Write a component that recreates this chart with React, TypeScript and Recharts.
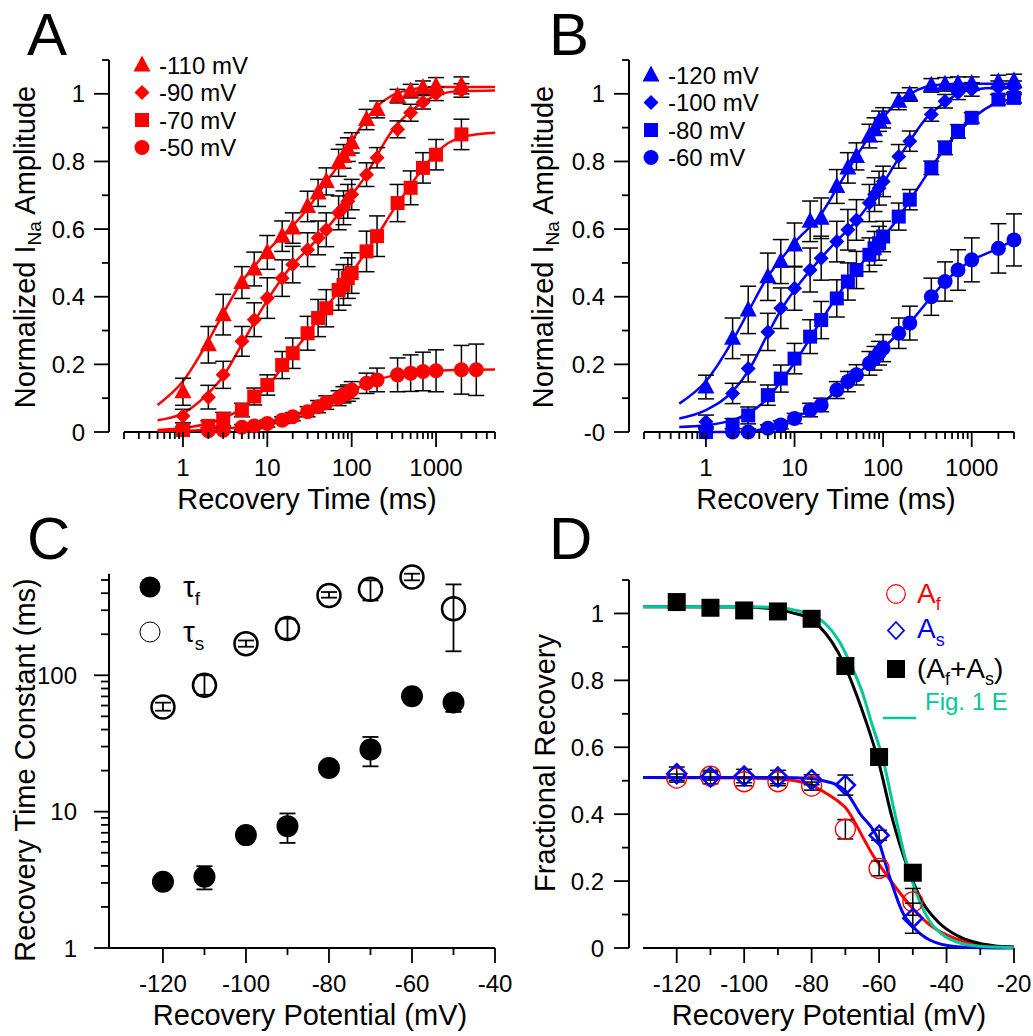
import React from 'react';
import { ComposedChart, Scatter, Line, XAxis, YAxis, ErrorBar, ReferenceLine } from 'recharts';

const FONT = '"Liberation Sans", Arial, Helvetica, sans-serif';
const RED = '#ff0000';
const BLUE = '#0000ff';
const TEAL = '#00c896';
const BLACK = '#000000';

// ---------- Panel A (red) ----------
const timesA = [1, 2, 3, 5, 7, 10, 15, 20, 30, 40, 50, 70, 80, 90, 100, 150, 200, 350, 500, 700, 1000, 2000];
const timesA50 = [2, 3, 5, 7, 10, 15, 20, 30, 40, 50, 70, 80, 90, 100, 150, 200, 350, 500, 700, 1000, 2000, 3000];
const a110 = [0.119, 0.258, 0.347, 0.442, 0.482, 0.531, 0.579, 0.603, 0.667, 0.707, 0.741, 0.796, 0.815, 0.835, 0.855, 0.924, 0.954, 0.993, 1.008, 1.018, 1.023, 1.025];
const a110Err = [0.04, 0.054, 0.06, 0.047, 0.05, 0.05, 0.045, 0.045, 0.045, 0.04, 0.04, 0.04, 0.035, 0.035, 0.03, 0.03, 0.025, 0.02, 0.02, 0.02, 0.025, 0.025];
const a90 = [0.047, 0.103, 0.169, 0.268, 0.332, 0.396, 0.455, 0.495, 0.539, 0.574, 0.598, 0.648, 0.663, 0.682, 0.702, 0.761, 0.811, 0.895, 0.944, 0.975, 1.0, 1.01];
const a90Err = [0.02, 0.035, 0.04, 0.044, 0.05, 0.06, 0.054, 0.054, 0.05, 0.05, 0.05, 0.05, 0.05, 0.05, 0.045, 0.035, 0.03, 0.025, 0.025, 0.02, 0.02, 0.02];
const a70 = [0.006, 0.018, 0.038, 0.065, 0.105, 0.139, 0.198, 0.233, 0.292, 0.337, 0.366, 0.42, 0.435, 0.455, 0.47, 0.534, 0.579, 0.677, 0.722, 0.781, 0.82, 0.88];
const a70Err = [0.01, 0.015, 0.02, 0.02, 0.025, 0.03, 0.04, 0.045, 0.05, 0.055, 0.055, 0.06, 0.06, 0.06, 0.06, 0.06, 0.06, 0.055, 0.05, 0.045, 0.045, 0.045];
const a50 = [0.004, 0.005, 0.014, 0.018, 0.025, 0.035, 0.045, 0.06, 0.075, 0.087, 0.1, 0.11, 0.115, 0.124, 0.144, 0.154, 0.169, 0.174, 0.179, 0.181, 0.184, 0.184];
const a50Err = [0.008, 0.008, 0.008, 0.008, 0.01, 0.01, 0.012, 0.015, 0.018, 0.02, 0.022, 0.024, 0.024, 0.025, 0.03, 0.035, 0.05, 0.054, 0.057, 0.062, 0.072, 0.076];
const fitTimesA = [0.5, 1, 2, 3, 5, 7, 10, 20, 30, 50, 70, 100, 150, 200, 300, 500, 700, 1000, 2000, 5000];
const fitA110 = [0.08, 0.15, 0.27, 0.35, 0.445, 0.49, 0.535, 0.61, 0.66, 0.74, 0.79, 0.86, 0.925, 0.962, 0.995, 1.012, 1.018, 1.02, 1.02, 1.02];
const fitA90 = [0.035, 0.055, 0.115, 0.165, 0.26, 0.325, 0.39, 0.495, 0.54, 0.6, 0.645, 0.7, 0.762, 0.818, 0.89, 0.948, 0.975, 0.995, 1.008, 1.01];
const fitA70 = [0.006, 0.012, 0.025, 0.04, 0.07, 0.1, 0.135, 0.235, 0.29, 0.37, 0.415, 0.47, 0.535, 0.58, 0.65, 0.73, 0.78, 0.825, 0.872, 0.885];
const fitA50 = [0.002, 0.004, 0.007, 0.01, 0.015, 0.019, 0.025, 0.045, 0.06, 0.087, 0.103, 0.122, 0.142, 0.154, 0.166, 0.174, 0.178, 0.181, 0.184, 0.185];

// ---------- Panel B (blue) ----------
const timesB = [1, 2, 3, 5, 7, 10, 15, 20, 30, 40, 50, 70, 80, 90, 100, 150, 200, 350, 500, 700, 1000, 2000, 3000];
const b120 = [0.133, 0.277, 0.361, 0.459, 0.504, 0.553, 0.623, 0.632, 0.726, 0.781, 0.815, 0.875, 0.894, 0.919, 0.929, 0.978, 0.998, 1.025, 1.028, 1.03, 1.03, 1.035, 1.038];
const b120Err = [0.035, 0.06, 0.07, 0.07, 0.065, 0.065, 0.06, 0.06, 0.05, 0.045, 0.04, 0.035, 0.035, 0.03, 0.03, 0.025, 0.02, 0.02, 0.02, 0.02, 0.02, 0.02, 0.02];
const b100 = [0.03, 0.114, 0.188, 0.296, 0.366, 0.425, 0.479, 0.514, 0.563, 0.598, 0.627, 0.677, 0.702, 0.721, 0.741, 0.815, 0.86, 0.939, 0.978, 1.003, 1.013, 1.018, 1.018];
const b100Err = [0.02, 0.03, 0.04, 0.055, 0.06, 0.065, 0.065, 0.065, 0.06, 0.06, 0.06, 0.055, 0.05, 0.05, 0.045, 0.035, 0.03, 0.02, 0.02, 0.02, 0.02, 0.02, 0.02];
const b80 = [0.0, 0.02, 0.049, 0.109, 0.158, 0.217, 0.282, 0.331, 0.395, 0.445, 0.479, 0.524, 0.543, 0.558, 0.578, 0.637, 0.687, 0.781, 0.84, 0.889, 0.929, 0.983, 0.988];
const b80Err = [0.015, 0.02, 0.025, 0.03, 0.04, 0.045, 0.05, 0.055, 0.055, 0.055, 0.055, 0.05, 0.05, 0.05, 0.045, 0.04, 0.03, 0.02, 0.02, 0.02, 0.015, 0.015, 0.015];
const b60 = [0.0, 0.0, 0.0, 0.011, 0.021, 0.04, 0.065, 0.08, 0.124, 0.149, 0.169, 0.203, 0.218, 0.233, 0.248, 0.292, 0.322, 0.4, 0.445, 0.479, 0.509, 0.543, 0.568];
const b60Err = [0.01, 0.01, 0.01, 0.01, 0.012, 0.015, 0.02, 0.02, 0.025, 0.03, 0.03, 0.035, 0.035, 0.035, 0.04, 0.045, 0.05, 0.055, 0.058, 0.06, 0.065, 0.073, 0.077];
const fitTimesB = [0.5, 1, 2, 3, 5, 7, 10, 20, 30, 50, 70, 100, 150, 200, 300, 500, 700, 1000, 2000, 3000];
const fitB120 = [0.084, 0.15, 0.27, 0.355, 0.46, 0.51, 0.56, 0.645, 0.72, 0.815, 0.875, 0.93, 0.978, 1.0, 1.02, 1.028, 1.03, 1.03, 1.03, 1.03];
const fitB100 = [0.04, 0.065, 0.12, 0.18, 0.29, 0.36, 0.42, 0.515, 0.565, 0.625, 0.675, 0.735, 0.81, 0.86, 0.925, 0.975, 1.0, 1.012, 1.018, 1.018];
const fitB80 = [0.015, 0.02, 0.035, 0.055, 0.1, 0.15, 0.205, 0.33, 0.4, 0.48, 0.525, 0.575, 0.635, 0.685, 0.755, 0.84, 0.885, 0.925, 0.975, 0.985];

// ---------- shared axes for A/B ----------
const xTicksA = [0.2, 0.3, 0.4, 0.5, 0.6, 0.7, 0.8, 0.9, 1, 2, 3, 4, 5, 6, 7, 8, 9, 10, 20, 30, 40, 50, 60, 70, 80, 90, 100, 200, 300, 400, 500, 600, 700, 800, 900, 1000, 2000, 3000, 4000, 5000];
const xTicksB = [0.2, 0.3, 0.4, 0.5, 0.6, 0.7, 0.8, 0.9, 1, 2, 3, 4, 5, 6, 7, 8, 9, 10, 20, 30, 40, 50, 60, 70, 80, 90, 100, 200, 300, 400, 500, 600, 700, 800, 900, 1000, 2000, 3000];
const xMajorLog = [1, 10, 100, 1000];
const xLabelsLog = ['1', '10', '100', '1000'];
const yTicksLin = [0, 0.1, 0.2, 0.3, 0.4, 0.5, 0.6, 0.7, 0.8, 0.9, 1, 1.1];
const yMajorLin = [0, 0.2, 0.4, 0.6, 0.8, 1];
const yLabelsA = ['0', '0.2', '0.4', '0.6', '0.8', '1'];
const yLabelsB = ['-0', '0.2', '0.4', '0.6', '0.8', '1'];

// ---------- Panel C ----------
const potentialsC = [-120, -110, -100, -90, -80, -70, -60, -50];
const tauF = [3.06, 3.33, 6.73, 7.83, 20.9, 28.6, 70.2, 63.1];
const tauFLo = [3.06, 2.69, 6.73, 5.9, 20.9, 21.5, 70.2, 53.9];
const tauFHi = [3.06, 3.98, 6.73, 9.7, 20.9, 35.3, 70.2, 70];
const tauS = [58.6, 84.5, 170.7, 220, 385, 427, 525, 308];
const tauSLo = [55, 72, 162, 186, 371, 354, 497, 150];
const tauSHi = [63, 100, 180, 260, 408, 497, 556, 464];
const xDomainC = [-133, -40];
const yTopC = 556;
const xTicksC = [-120, -110, -100, -90, -80, -70, -60, -50, -40];
const xMajorC = [-120, -100, -80, -60, -40];
const xLabelsC = ['-120', '-100', '-80', '-60', '-40'];
const yTicksC = [1, 2, 3, 4, 5, 6, 7, 8, 9, 10, 20, 30, 40, 50, 60, 70, 80, 90, 100, 200, 300, 400, 500];
const yMajorC = [1, 10, 100];
const yLabelsC = ['1', '10', '100'];

// ---------- Panel D ----------
const potentialsD = [-120, -110, -100, -90, -80, -70, -60, -50];
const ampF = [0.508, 0.514, 0.497, 0.497, 0.484, 0.355, 0.238, 0.138];
const ampFErr = [0.012, 0.012, 0.012, 0.012, 0.012, 0.029, 0.022, 0.04];
const ampS = [0.521, 0.511, 0.514, 0.511, 0.503, 0.487, 0.337, 0.089];
const ampSErr = [0.02, 0.02, 0.02, 0.02, 0.015, 0.03, 0.015, 0.045];
const ampSum = [1.034, 1.017, 1.009, 1.006, 0.984, 0.843, 0.571, 0.225];
const fitSumX = [-130, -100, -90, -85, -81.6, -77.6, -74, -70.2, -66.8, -63.8, -60.4, -55.9, -51.9, -47, -42.1, -37, -32.2, -26, -20];
const fitSumY = [1.02, 1.019, 1.012, 1.0, 0.99, 0.96, 0.915, 0.845, 0.76, 0.675, 0.566, 0.38, 0.25, 0.135, 0.074, 0.038, 0.019, 0.007, 0.003];
const fig1EX = [-130, -100, -90, -85, -80, -76, -72, -68.5, -65, -62.3, -58.9, -55.5, -52, -49, -45, -40, -35, -30, -20];
const fig1EY = [1.02, 1.02, 1.018, 1.01, 0.995, 0.97, 0.92, 0.85, 0.765, 0.675, 0.566, 0.41, 0.26, 0.165, 0.08, 0.032, 0.012, 0.005, 0.001];
const fitFX = [-130, -100, -90, -85, -80, -75.6, -71.7, -70, -65, -62, -60, -55, -50, -45, -40, -35, -30, -25, -20];
const fitFY = [0.51, 0.508, 0.505, 0.5, 0.487, 0.462, 0.435, 0.42, 0.335, 0.28, 0.25, 0.18, 0.118, 0.069, 0.039, 0.02, 0.009, 0.004, 0.002];
const fitSX = [-130, -90, -80, -76.6, -73, -70.2, -65.7, -60.4, -56.9, -52.9, -50, -45, -37, -30, -20];
const fitSY = [0.51, 0.51, 0.507, 0.5, 0.49, 0.472, 0.402, 0.327, 0.213, 0.104, 0.064, 0.024, 0.004, 0.001, 0];
const xTicksD = [-120, -110, -100, -90, -80, -70, -60, -50, -40, -30, -20];
const xMajorD = [-120, -100, -80, -60, -40, -20];
const xLabelsD = ['-120', '-100', '-80', '-60', '-40', '-20'];
const yLabelsD = ['0', '0.2', '0.4', '0.6', '0.8', '1'];

// ---------- helpers ----------
type Pt = { x: number; y: number; err?: number[] };
const toPoints = (xs: number[], ys: number[], es: number[]): Pt[] =>
  xs.map((x, i) => ({ x, y: ys[i], err: [Math.min(es[i], Math.max(ys[i], 0)), es[i]] }));
const toCurve = (xs: number[], ys: number[]): Pt[] => xs.map((x, i) => ({ x, y: ys[i] }));

// Panel C's logarithmic axis: values are placed on a linear axis at log10(value)
const lg = (v: number) => Math.log10(v);
const toLogBounds = (xs: number[], ys: number[], lo: number[], hi: number[]): Pt[] =>
  xs.map((x, i) => ({ x, y: lg(ys[i]), err: [lg(ys[i]) - lg(lo[i]), lg(hi[i]) - lg(ys[i])] }));

function Marker({ kind, cx, cy, color, size, open, sw }: any) {
  const s = size;
  if (kind === 'triangle') {
    return <polygon points={`${cx},${cy - s * 0.62} ${cx - s * 0.55},${cy + s * 0.42} ${cx + s * 0.55},${cy + s * 0.42}`} fill={color} />;
  }
  if (kind === 'diamond') {
    const r = s / 2;
    return <polygon points={`${cx},${cy - r} ${cx + r},${cy} ${cx},${cy + r} ${cx - r},${cy}`} fill={open ? 'none' : color} stroke={open ? color : 'none'} strokeWidth={sw || 0} />;
  }
  if (kind === 'square') {
    return <rect x={cx - s / 2} y={cy - s / 2} width={s} height={s} fill={color} />;
  }
  return <circle cx={cx} cy={cy} r={s / 2} fill={open ? 'none' : color} stroke={open ? color : 'none'} strokeWidth={sw || 0} />;
}

const makeXTick = (major: number[], labels: string[]) => (props: any) => {
  const { x, y, payload } = props;
  const idx = major.indexOf(payload.value);
  const isMajor = idx >= 0;
  return (
    <g>
      <line x1={x} y1={y} x2={x} y2={y + (isMajor ? 15 : 7)} stroke={BLACK} strokeWidth={1.8} />
      {isMajor && (
        <text x={x} y={y + 44} textAnchor="middle" fontSize={24} fontFamily={FONT} fill={BLACK}>
          {labels[idx]}
        </text>
      )}
    </g>
  );
};

const makeYTick = (major: number[], labels: string[], gap: number, minorLen: number) => (props: any) => {
  const { x, y, payload } = props;
  const idx = major.indexOf(payload.value);
  const isMajor = idx >= 0;
  return (
    <g>
      <line x1={x - (isMajor ? 15 : minorLen)} y1={y} x2={x} y2={y} stroke={BLACK} strokeWidth={1.8} />
      {isMajor && (
        <text x={x - gap} y={y} dy="0.36em" textAnchor="end" fontSize={24} fontFamily={FONT} fill={BLACK}>
          {labels[idx]}
        </text>
      )}
    </g>
  );
};

type SeriesDef = {
  label: string; kind: string; color: string;
  times: number[]; values: number[]; errs: number[];
  fitT: number[]; fitV: number[]; fitType: 'monotone' | 'linear';
};

const seriesA: SeriesDef[] = [
  { label: '-110 mV', kind: 'triangle', color: RED, times: timesA, values: a110, errs: a110Err, fitT: fitTimesA, fitV: fitA110, fitType: 'monotone' },
  { label: '-90 mV', kind: 'diamond', color: RED, times: timesA, values: a90, errs: a90Err, fitT: fitTimesA, fitV: fitA90, fitType: 'monotone' },
  { label: '-70 mV', kind: 'square', color: RED, times: timesA, values: a70, errs: a70Err, fitT: fitTimesA, fitV: fitA70, fitType: 'monotone' },
  { label: '-50 mV', kind: 'circle', color: RED, times: timesA50, values: a50, errs: a50Err, fitT: fitTimesA, fitV: fitA50, fitType: 'monotone' },
];
const seriesB: SeriesDef[] = [
  { label: '-120 mV', kind: 'triangle', color: BLUE, times: timesB, values: b120, errs: b120Err, fitT: fitTimesB, fitV: fitB120, fitType: 'monotone' },
  { label: '-100 mV', kind: 'diamond', color: BLUE, times: timesB, values: b100, errs: b100Err, fitT: fitTimesB, fitV: fitB100, fitType: 'monotone' },
  { label: '-80 mV', kind: 'square', color: BLUE, times: timesB, values: b80, errs: b80Err, fitT: fitTimesB, fitV: fitB80, fitType: 'monotone' },
  { label: '-60 mV', kind: 'circle', color: BLUE, times: timesB, values: b60, errs: b60Err, fitT: timesB, fitV: b60, fitType: 'linear' },
];
const markerSize: Record<string, number> = { triangle: 15.5, diamond: 15, square: 14, circle: 15 };

function TimePanel({ left, top, w, h, margin, xMax, xTicks, yLabels, series }: any) {
  return (
    <div style={{ position: 'absolute', left, top, width: w, height: h }}>
      <ComposedChart width={w} height={h} margin={margin}>
        <XAxis type="number" dataKey="x" scale="log" domain={[0.2, xMax]} ticks={xTicks} interval={0}
          height={50} padding={{ left: 15, right: 0 }} tickSize={0} tickMargin={0} tickLine={false} axisLine={false}
          tick={makeXTick(xMajorLog, xLabelsLog)} />
        <YAxis type="number" dataKey="y" domain={[0, 1.1]} ticks={yTicksLin} interval={0} width={70}
          tickSize={0} tickMargin={0} tickLine={false} axisLine={{ stroke: BLACK, strokeWidth: 2 }}
          tick={makeYTick(yMajorLin, yLabels, 24, 7)} />
        <ReferenceLine segment={[{ x: 0.2, y: 0 }, { x: xMax, y: 0 }]} stroke={BLACK} strokeWidth={2} ifOverflow="visible" />
        {series.map((s: SeriesDef) => (
          <Line key={'fit' + s.label} data={toCurve(s.fitT, s.fitV)} dataKey="y" type={s.fitType}
            stroke={s.color} strokeWidth={2.5} dot={false} activeDot={false} isAnimationActive={false} />
        ))}
        {series.map((s: SeriesDef) => (
          <Scatter key={'pts' + s.label} data={toPoints(s.times, s.values, s.errs)} isAnimationActive={false}
            shape={(p: any) => <Marker kind={s.kind} cx={p.cx} cy={p.cy} color={s.color} size={markerSize[s.kind]} />}>
            <ErrorBar dataKey="err" direction="y" width={8} stroke={BLACK} strokeWidth={1.5} isAnimationActive={false} />
          </Scatter>
        ))}
      </ComposedChart>
    </div>
  );
}

function PanelC() {
  const w = 520, h = 526;
  const yTickPos = yTicksC.map(lg);
  const yMajorPos = yMajorC.map(lg);
  return (
    <div style={{ position: 'absolute', left: 0, top: 510, width: w, height: h }}>
      <ComposedChart width={w} height={h} margin={{ top: 63.7, right: 25, bottom: 38, left: 39 }}>
        <XAxis type="number" dataKey="x" domain={xDomainC} ticks={xTicksC} interval={0}
          height={50} tickSize={0} tickMargin={0} tickLine={false} axisLine={{ stroke: BLACK, strokeWidth: 2 }}
          tick={makeXTick(xMajorC, xLabelsC)} />
        <YAxis type="number" dataKey="y" domain={[lg(yTicksC[0]), lg(yTopC)]} ticks={yTickPos} interval={0} width={70}
          tickSize={0} tickMargin={0} tickLine={false} axisLine={{ stroke: BLACK, strokeWidth: 2 }}
          tick={makeYTick(yMajorPos, yLabelsC, 32, 8)} />
        <Scatter data={toLogBounds(potentialsC, tauS, tauSLo, tauSHi)} isAnimationActive={false}
          shape={(p: any) => <Marker kind="circle" cx={p.cx} cy={p.cy} color={BLACK} size={23} open sw={2.5} />}>
          <ErrorBar dataKey="err" direction="y" width={8} stroke={BLACK} strokeWidth={1.8} isAnimationActive={false} />
        </Scatter>
        <Scatter data={toLogBounds(potentialsC, tauF, tauFLo, tauFHi)} isAnimationActive={false}
          shape={(p: any) => <Marker kind="circle" cx={p.cx} cy={p.cy} color={BLACK} size={22} />}>
          <ErrorBar dataKey="err" direction="y" width={8} stroke={BLACK} strokeWidth={1.8} isAnimationActive={false} />
        </Scatter>
      </ComposedChart>
    </div>
  );
}

function PanelD() {
  const w = 513, h = 526;
  return (
    <div style={{ position: 'absolute', left: 520, top: 510, width: w, height: h }}>
      <ComposedChart width={w} height={h} margin={{ top: 70, right: 19, bottom: 38, left: 39 }}>
        <XAxis type="number" dataKey="x" domain={[-130, -20]} ticks={xTicksD} interval={0}
          height={50} padding={{ left: 14, right: 0 }} tickSize={0} tickMargin={0} tickLine={false} axisLine={false}
          tick={makeXTick(xMajorD, xLabelsD)} />
        <YAxis type="number" dataKey="y" domain={[0, 1.1]} ticks={yTicksLin} interval={0} width={70}
          tickSize={0} tickMargin={0} tickLine={false} axisLine={{ stroke: BLACK, strokeWidth: 2 }}
          tick={makeYTick(yMajorLin, yLabelsD, 25, 7)} />
        <ReferenceLine segment={[{ x: -130, y: 0 }, { x: -20, y: 0 }]} stroke={BLACK} strokeWidth={2} ifOverflow="visible" />
        <Line data={toCurve(fitFX, fitFY)} dataKey="y" type="monotone" stroke={RED} strokeWidth={3} dot={false} activeDot={false} isAnimationActive={false} />
        <Line data={toCurve(fitSX, fitSY)} dataKey="y" type="monotone" stroke={BLUE} strokeWidth={3} dot={false} activeDot={false} isAnimationActive={false} />
        <Line data={toCurve(fitSumX, fitSumY)} dataKey="y" type="monotone" stroke={BLACK} strokeWidth={3} dot={false} activeDot={false} isAnimationActive={false} />
        <Line data={toCurve(fig1EX, fig1EY)} dataKey="y" type="monotone" stroke={TEAL} strokeWidth={3} dot={false} activeDot={false} isAnimationActive={false} />
        <Scatter data={toCurve(potentialsD, ampSum)} isAnimationActive={false}
          shape={(p: any) => <Marker kind="square" cx={p.cx} cy={p.cy} color={BLACK} size={18} />} />
        <Scatter data={toPoints(potentialsD, ampF, ampFErr)} isAnimationActive={false}
          shape={(p: any) => <Marker kind="circle" cx={p.cx} cy={p.cy} color={RED} size={20} open sw={1.3} />}>
          <ErrorBar dataKey="err" direction="y" width={8} stroke={BLACK} strokeWidth={1.5} isAnimationActive={false} />
        </Scatter>
        <Scatter data={toPoints(potentialsD, ampS, ampSErr)} isAnimationActive={false}
          shape={(p: any) => <Marker kind="diamond" cx={p.cx} cy={p.cy} color={BLUE} size={19} open sw={2.5} />}>
          <ErrorBar dataKey="err" direction="y" width={8} stroke={BLACK} strokeWidth={1.5} isAnimationActive={false} />
        </Scatter>
      </ComposedChart>
    </div>
  );
}

function Overlay() {
  const legendRows = (series: SeriesDef[], sx: number, tx: number, y0: number) =>
    series.map((s, i) => (
      <g key={s.label}>
        <Marker kind={s.kind} cx={sx} cy={y0 + i * 27.5} color={s.color} size={markerSize[s.kind]} />
        <text x={tx} y={y0 + i * 27.5} dy="0.36em" fontSize={24} fill={BLACK}>{s.label}</text>
      </g>
    ));
  return (
    <svg width={1033} height={1036} style={{ position: 'absolute', left: 0, top: 0, pointerEvents: 'none' }} fontFamily={FONT}>
      <text x={27} y={55} fontSize={60}>A</text>
      <text x={549} y={55} fontSize={60}>B</text>
      <text x={27} y={559} fontSize={60}>C</text>
      <text x={549} y={559} fontSize={60}>D</text>

      <text x={307} y={509} fontSize={29} textAnchor="middle">Recovery Time (ms)</text>
      <text x={826} y={509} fontSize={29} textAnchor="middle">Recovery Time (ms)</text>
      <text x={310} y={1025} fontSize={29} textAnchor="middle">Recovery Potential (mV)</text>
      <text x={829} y={1025} fontSize={29} textAnchor="middle">Recovery Potential (mV)</text>

      <text transform="translate(35,247) rotate(-90)" fontSize={29} textAnchor="middle">
        Normalized I<tspan fontSize={19} dy={6}>Na</tspan><tspan dy={-6}> Amplitude</tspan>
      </text>
      <text transform="translate(553,247) rotate(-90)" fontSize={29} textAnchor="middle">
        Normalized I<tspan fontSize={19} dy={6}>Na</tspan><tspan dy={-6}> Amplitude</tspan>
      </text>
      <text transform="translate(35,770) rotate(-90)" fontSize={29} textAnchor="middle">Recovery Time Constant (ms)</text>
      <text transform="translate(555,763) rotate(-90)" fontSize={29} textAnchor="middle">Fractional Recovery</text>

      {legendRows(seriesA, 142, 159, 65)}
      {legendRows(seriesB, 651, 668, 75)}

      <circle cx={150} cy={587} r={10.5} fill={BLACK} />
      <text x={183} y={597} fontSize={30}>τ<tspan fontSize={19} dy={8}>f</tspan></text>
      <circle cx={150} cy={632} r={10} fill="none" stroke={BLACK} strokeWidth={1} />
      <text x={183} y={642} fontSize={30}>τ<tspan fontSize={19} dy={8}>s</tspan></text>

      <circle cx={896} cy={594} r={9.3} fill="none" stroke={RED} strokeWidth={1.2} />
      <text x={917} y={603} fontSize={28} fill={RED}>A<tspan fontSize={18} dy={7}>f</tspan></text>
      <polygon points="896,622 904,630.5 896,639 888,630.5" fill="none" stroke={BLUE} strokeWidth={1.8} />
      <text x={917} y={638} fontSize={28} fill={BLUE}>A<tspan fontSize={18} dy={8}>s</tspan></text>
      <rect x={887} y={660} width={18} height={18} fill={BLACK} />
      <text x={917} y={678} fontSize={28} fill={BLACK}>
        (A<tspan fontSize={18} dy={7}>f</tspan><tspan dy={-7}>+A</tspan><tspan fontSize={18} dy={7}>s</tspan><tspan dy={-7}>)</tspan>
      </text>
      <line x1={883} y1={718} x2={916} y2={718} stroke={TEAL} strokeWidth={2.5} />
      <text x={925} y={710} fontSize={24} fill={TEAL}>Fig. 1 E</text>
    </svg>
  );
}

export default function App() {
  return (
    <div style={{ position: 'absolute', left: 0, top: 0, width: 1033, height: 1036, background: '#fff', fontFamily: FONT }}>
      <TimePanel left={0} top={0} w={520} h={520} margin={{ top: 60, right: 25, bottom: 38, left: 39 }}
        xMax={5000} xTicks={xTicksA} yLabels={yLabelsA} series={seriesA} />
      <TimePanel left={520} top={0} w={513} h={520} margin={{ top: 60, right: 19, bottom: 38, left: 39 }}
        xMax={3000} xTicks={xTicksB} yLabels={yLabelsB} series={seriesB} />
      <PanelC />
      <PanelD />
      <Overlay />
    </div>
  );
}
